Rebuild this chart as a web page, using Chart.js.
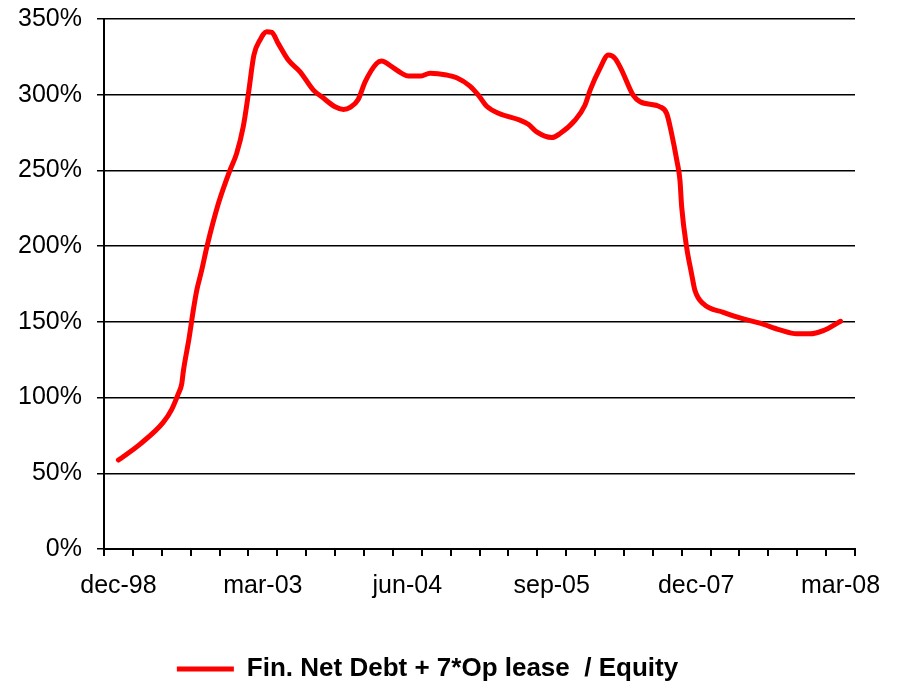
<!DOCTYPE html>
<html>
<head>
<meta charset="utf-8">
<script src="https://cdn.jsdelivr.net/npm/chart.js@4.4.0/dist/chart.umd.min.js"></script>
<style>
  html, body { margin: 0; padding: 0; background: #fff; }
</style>
</head>
<body>
<canvas id="MyChart" width="897" height="681"></canvas>
<script>
// category labels (26 periods, only every 5th is labelled)
const periods = ['dec-98', '', '', '', '', 'mar-03', '', '', '', '', 'jun-04', '', '', '', '',
  'sep-05', '', '', '', '', 'dec-07', '', '', '', '', 'mar-08']

// position of each reading along the period axis (0 = left edge, 26 = right edge)
const pos = [0.5, 1.25, 2.05, 2.35, 2.57, 2.69, 2.75, 2.95, 3.09, 3.21,
  3.38, 3.56, 3.96, 4.36, 4.59, 4.82, 5.0, 5.19, 5.4, 5.63,
  5.81, 6.03, 6.38, 6.79, 7.25, 7.54, 8.0, 8.29, 8.52, 8.8,
  9.04, 9.44, 9.61, 9.96, 10.31, 10.54, 10.94, 11.29, 11.86, 12.21,
  12.67, 12.96, 13.25, 13.68, 14.4, 14.69, 14.98, 15.5, 15.79, 16.31,
  16.65, 16.83, 17.17, 17.46, 17.69, 17.92, 18.32, 18.56, 19.25, 19.48,
  19.65, 19.83, 19.94, 20.0, 20.17, 20.34, 20.46, 20.75, 21.44, 22.02,
  22.71, 23.4, 23.98, 24.44, 24.9, 25.5]

// Fin. Net Debt + 7*Op lease / Equity, in %
const ratio = [58.7, 69.3, 83.6, 92.4, 102.4, 109.0, 117.8, 139.8, 157.5, 170.7,
  183.9, 199.4, 228.1, 250.1, 261.1, 278.8, 300.8, 326.2, 336.1, 341.6,
  341.2, 333.9, 322.9, 315.1, 303.0, 298.6, 292.0, 290.3, 291.6, 296.9,
  308.5, 320.7, 322.2, 318.5, 314.1, 312.3, 312.3, 314.1, 313.0, 311.2,
  305.7, 299.7, 292.4, 287.6, 283.2, 280.5, 275.4, 271.7, 274.4, 283.2,
  293.1, 303.0, 317.4, 326.2, 324.0, 316.3, 299.7, 295.3, 292.0, 287.6,
  274.4, 256.7, 243.5, 225.8, 199.4, 182.0, 170.7, 161.9, 156.3, 152.6,
  149.1, 144.7, 142.1, 142.1, 144.2, 150.4]

const yTicks = [0, 50, 100, 150, 200, 250, 300, 350]

const fam = "'Liberation Sans', Arial, sans-serif"

let ctx = document.getElementById('MyChart')
new Chart(ctx, {
  type: 'line',
  data: {
    labels: periods,
    datasets: [{
      label: 'Fin. Net Debt + 7*Op lease  / Equity',
      data: pos.map((p, i) => ({ x: p, y: ratio[i] })),
      xAxisID: 'xd',
      yAxisID: 'y',
      borderColor: '#ff0000',
      backgroundColor: '#ff0000',
      borderWidth: 5,
      borderCapStyle: 'round',
      borderJoinStyle: 'round',
      cubicInterpolationMode: 'monotone',
      pointRadius: 0,
      fill: false
    }]
  },
  options: {
    responsive: false,
    animation: false,
    layout: { padding: { top: 19, right: 42, left: 0, bottom: -11 } },
    plugins: {
      tooltip: { enabled: false },
      legend: {
        position: 'bottom',
        labels: {
          usePointStyle: true,
          pointStyle: 'line',
          pointStyleWidth: 57,
          padding: 0,
          color: '#000',
          font: { family: fam, size: 26, weight: 'bold' }
        }
      }
    },
    scales: {
      x: {
        type: 'category',
        offset: true,
        grid: { offset: true, drawOnChartArea: false, color: '#000', lineWidth: 2, tickLength: 7 },
        border: { color: '#000', width: 2 },
        ticks: { autoSkip: false, maxRotation: 0, color: '#000', padding: 15, font: { family: fam, size: 25 } },
        afterFit: (s) => { s.height = 107 }
      },
      xd: { type: 'linear', display: false, min: 0, max: 26 },
      y: {
        min: 0,
        max: 350,
        afterBuildTicks: (s) => { s.ticks = yTicks.map(v => ({ value: v })) },
        grid: { color: '#000', lineWidth: 1.5, tickLength: 7 },
        border: { color: '#000', width: 2 },
        ticks: { color: '#000', padding: 15, font: { family: fam, size: 25 }, callback: (v) => v + '%' },
        afterFit: (s) => { s.width = 104; s.paddingTop = 0; s.paddingBottom = 0 }
      }
    }
  }
})
</script>
</body>
</html>
